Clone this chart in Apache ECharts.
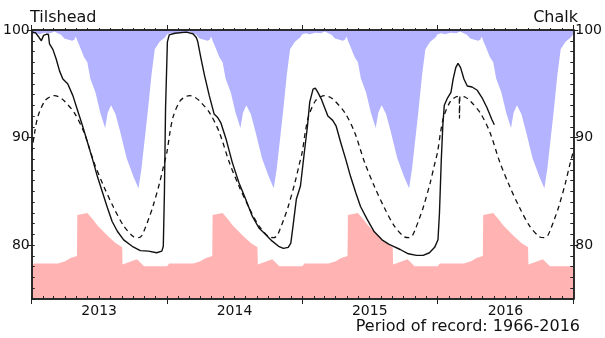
<!DOCTYPE html>
<html>
<head>
<meta charset="utf-8">
<script src="https://cdn.jsdelivr.net/npm/echarts@6/dist/echarts.min.js"></script>
<style>
  html, body { margin: 0; padding: 0; background: #fff; }
  #chart { width: 605px; height: 338px; }
</style>
</head>
<body>
<div id="chart"></div>
<script>
  // groundwater level (m AOD), Tilshead chalk borehole
  var years = [2013, 2014, 2015, 2016];
  var yearLabels = ['2013', '2014', '2015', '2016'];
  var yTicks = [80, 90, 100];

  // long-term maximum by day of year (top of blue band)
  var maxDays = [0, 10, 20, 35, 50, 61, 70, 79, 88, 100, 109, 115, 119, 124, 128, 141, 150, 158, 172, 185, 198, 205, 214, 226, 239, 256, 274, 288, 296, 305, 314, 323, 332, 345, 359];
  var maxVals = [99.6, 99.7, 99.6, 99.75, 99.7, 99.85, 99.7, 99.55, 99.2, 99.1, 99.0, 99.1, 99.4, 98.9, 98.6, 97.5, 97.0, 95.5, 94.2, 92.3, 90.9, 92.3, 93.0, 92.2, 90.5, 88.1, 86.4, 85.3, 87.1, 89.9, 92.7, 95.8, 98.2, 98.9, 99.3];

  // long-term minimum by day of year (top of pink band)
  var minDays = [0, 5, 6, 71, 90, 105, 122, 123, 127, 150, 165, 178, 204, 226, 244, 245, 284, 303];
  var minVals = [78.05, 78.05, 78.3, 78.3, 78.5, 78.8, 79.0, 82.8, 82.95, 83.0, 82.4, 81.8, 80.9, 80.2, 79.8, 78.2, 78.7, 78.05];

  // long-term average by day of year (dashed)
  var meanDays = [0, 8, 17, 35, 50, 61, 75, 88, 115, 141, 168, 194, 221, 248, 274, 288, 297, 305, 316, 327, 345, 356];
  var meanVals = [88.7, 90.5, 92.0, 93.4, 93.8, 93.9, 93.75, 93.4, 92.3, 90.5, 87.7, 85.5, 83.5, 81.8, 80.8, 80.7, 80.9, 81.5, 82.5, 83.6, 85.8, 87.4];
  var leapDates = ['2016-02-28', '2016-02-29', '2016-03-01'];
  var leapVals = [93.85, 91.8, 93.85];

  // observed levels (solid)
  var levelDates = ['2013-01-01', '2013-01-11', '2013-01-21', '2013-01-27', '2013-02-02', '2013-02-09', '2013-02-15', '2013-02-18', '2013-02-27', '2013-03-08', '2013-03-17', '2013-03-26', '2013-04-08', '2013-04-22', '2013-05-05', '2013-05-18', '2013-06-01', '2013-06-14', '2013-06-27', '2013-07-11', '2013-07-24', '2013-08-06', '2013-08-20', '2013-09-06', '2013-09-29', '2013-10-21', '2013-11-12', '2013-12-04', '2013-12-18', '2013-12-22', '2013-12-25', '2013-12-28',
    '2014-01-02', '2014-01-07', '2014-01-22', '2014-02-22', '2014-03-12', '2014-03-21', '2014-03-25', '2014-04-03', '2014-04-12', '2014-04-25', '2014-05-08', '2014-05-17', '2014-05-26', '2014-06-09', '2014-06-26', '2014-07-14', '2014-08-01', '2014-08-19', '2014-09-06', '2014-09-24', '2014-10-11', '2014-10-29', '2014-11-11', '2014-11-24', '2014-12-01', '2014-12-07', '2014-12-16', '2014-12-27',
    '2015-01-06', '2015-01-15', '2015-01-21', '2015-01-30', '2015-02-05', '2015-02-12', '2015-02-21', '2015-03-02', '2015-03-11', '2015-03-24', '2015-04-02', '2015-04-15', '2015-04-28', '2015-05-11', '2015-05-25', '2015-06-07', '2015-06-25', '2015-07-13', '2015-08-04', '2015-08-22', '2015-09-04', '2015-09-22', '2015-10-14', '2015-11-05', '2015-11-23', '2015-12-10', '2015-12-24',
    '2016-01-02', '2016-01-06', '2016-01-11', '2016-01-15', '2016-01-19', '2016-01-28', '2016-02-06', '2016-02-12', '2016-02-19', '2016-02-25', '2016-03-03', '2016-03-12', '2016-03-21', '2016-04-03', '2016-04-17', '2016-04-30', '2016-05-13', '2016-05-26', '2016-06-02'];
  var levelVals = [99.8, 99.75, 99.3, 99.0, 99.5, 99.6, 99.6, 98.7, 98.2, 97.3, 96.2, 95.45, 95.0, 93.9, 92.5, 91.1, 89.5, 88.0, 86.4, 84.9, 83.5, 82.2, 81.3, 80.5, 79.9, 79.5, 79.45, 79.3, 79.45, 79.9, 84.9, 92.65,
    98.9, 99.55, 99.7, 99.8, 99.65, 99.3, 98.9, 97.3, 95.8, 93.9, 92.2, 91.9, 91.4, 89.9, 87.7, 85.8, 84.3, 82.7, 81.6, 81.0, 80.4, 79.9, 79.7, 79.8, 80.2, 81.8, 84.3, 85.5,
    88.5, 91.1, 93.3, 94.5, 94.6, 94.2, 93.6, 92.8, 92.0, 91.6, 91.1, 89.5, 88.0, 86.4, 84.9, 83.6, 82.4, 81.3, 80.5, 80.1, 79.9, 79.6, 79.2, 79.05, 79.05, 79.3, 79.8,
    80.5, 83.0, 88.0, 91.1, 93.0, 93.7, 94.2, 95.45, 96.5, 96.9, 96.5, 95.45, 94.8, 94.7, 94.4, 93.7, 92.8, 91.7, 91.2];

  function dayTime(y, d) {
    return Date.UTC(y, 0, 1 + d);
  }
  function parseDay(s) {
    var p = s.split('-');
    return Date.UTC(+p[0], +p[1] - 1, +p[2]);
  }

  // repeat a day-of-year profile over every year on the chart
  function byYear(days, vals) {
    var out = [];
    years.forEach(function (y) {
      for (var i = 0; i < days.length; i++) {
        out.push([dayTime(y, days[i]), vals[i]]);
      }
    });
    out.push([dayTime(years[years.length - 1] + 1, 0), vals[0]]);
    return out;
  }

  var meanData = byYear(meanDays, meanVals);
  leapDates.forEach(function (d, i) {
    meanData.push([parseDay(d), leapVals[i]]);
  });
  meanData.sort(function (a, b) { return a[0] - b[0]; });

  var levelData = levelDates.map(function (d, i) {
    return [parseDay(d), levelVals[i]];
  });

  var tMin = dayTime(years[0], 0);
  var tMax = dayTime(years[years.length - 1] + 1, 0);
  var monthStarts = [], yearStarts = [], midYears = [];
  years.concat([years[years.length - 1] + 1]).forEach(function (y) {
    yearStarts.push(Date.UTC(y, 0, 1));
  });
  years.forEach(function (y) {
    for (var m = 0; m < 12; m++) monthStarts.push(Date.UTC(y, m, 1));
    midYears.push(Date.UTC(y, 6, 2));
  });

  var axisColor = '#222';
  var font = 'DejaVu Sans';

  function xAx(pos, ticks, inside, len, label) {
    return {
      type: 'value', min: tMin, max: tMax, position: pos, offset: 0, z: 5,
      axisLine: { show: true, onZero: false, lineStyle: { color: axisColor, width: 1.5 } },
      axisTick: { show: true, customValues: ticks, inside: inside, length: len, lineStyle: { color: axisColor, width: 1 } },
      axisLabel: label ? {
        show: true, customValues: midYears, margin: 5, fontSize: 14, fontFamily: font, color: '#111',
        formatter: function (v) { return yearLabels[years.indexOf(new Date(v).getUTCFullYear())]; }
      } : { show: false, customValues: midYears },
      splitLine: { show: false }
    };
  }

  function yAx(pos, major) {
    return {
      type: 'value', min: 75, max: 100, interval: 1, position: pos, offset: 0, z: 5,
      axisLine: { show: true, onZero: false, lineStyle: { color: axisColor, width: 1.5 } },
      axisTick: major ? { show: true, customValues: yTicks, inside: false, length: 5, lineStyle: { color: axisColor } }
                      : { show: true, inside: true, length: 3, lineStyle: { color: axisColor } },
      axisLabel: major ? { show: true, customValues: yTicks, margin: 2, fontSize: 14, fontFamily: font, color: '#111' } : { show: false },
      splitLine: { show: false }
    };
  }

  var chart = echarts.init(document.getElementById('chart'));
  chart.setOption({
    animation: false,
    grid: { left: 30, right: 27, top: 30, bottom: 39 },
    xAxis: [
      xAx('bottom', monthStarts, true, 3, false),
      xAx('bottom', yearStarts, false, 5, true),
      xAx('top', monthStarts, false, 2, false),
      xAx('top', yearStarts, false, 5, false)
    ],
    yAxis: [
      yAx('left', false),
      yAx('left', true),
      yAx('right', false),
      yAx('right', true)
    ],
    graphic: [
      { type: 'text', left: 30, top: 10, style: { text: 'Tilshead', fontSize: 16, fontFamily: font, fill: '#111' } },
      { type: 'text', right: 27, top: 10, style: { text: 'Chalk', fontSize: 16, fontFamily: font, fill: '#111' } },
      { type: 'text', right: 25, top: 319, style: { text: 'Period of record: 1966-2016', fontSize: 16, fontFamily: font, fill: '#111' } }
    ],
    series: [
      {
        type: 'line', data: byYear(maxDays, maxVals), showSymbol: false, z: 1,
        lineStyle: { width: 0 }, areaStyle: { color: '#b3b3ff', opacity: 1, origin: 'end' }
      },
      {
        type: 'line', data: byYear(minDays, minVals), showSymbol: false, z: 1,
        lineStyle: { width: 0 }, areaStyle: { color: '#ffb3b3', opacity: 1, origin: 'start' }
      },
      {
        type: 'line', data: meanData, showSymbol: false, z: 2, smooth: 0.3,
        lineStyle: { color: '#111', width: 1.3, type: [5, 4] }
      },
      {
        type: 'line', data: levelData, showSymbol: false, z: 3,
        lineStyle: { color: '#111', width: 1.4 }
      }
    ]
  });
</script>
</body>
</html>
